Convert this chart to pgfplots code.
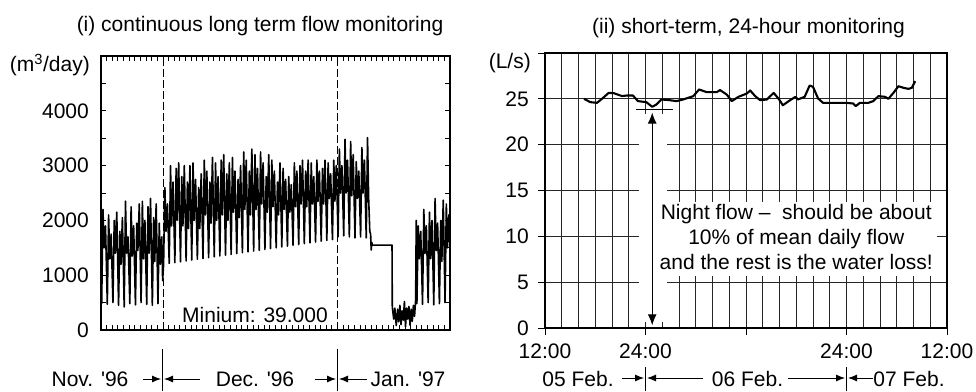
\documentclass[border=0pt]{standalone}
\usepackage{fontspec}
\setmainfont{Liberation Sans}
\usepackage{pgfplots}
\pgfplotsset{compat=1.18}
\usetikzlibrary{arrows.meta}
\newcommand{\F}{\fontsize{21pt}{25pt}\selectfont}
\begin{document}
\F
\begin{tikzpicture}[x=1pt,y=1pt,font=\F]
\useasboundingbox (0,0) rectangle (976,391);
% ---------------- left panel ----------------
\begin{axis}[at={(101pt,61pt)}, anchor=south west, scale only axis,
  width=349pt, height=274pt,
  xmin=0, xmax=62, ymin=0, ymax=5000,
  xtick={0,1,...,62}, xticklabels={},
  ytick={0,500,...,5000}, yticklabels={0,,1000,,2000,,3000,,4000,,},
  scaled ticks=false,
  tick align=inside, major tick length=5pt,
  axis line style={line width=1.1pt},
  tick style={black,line width=0.8pt},
  tick label style={font=\F},
  yticklabel style={xshift=-5pt},
  /pgf/number format/assume math mode=true]
\draw[dash pattern=on 8pt off 3pt, line width=0.7pt] (axis cs:11,0) -- (axis cs:11,5000);
\draw[dash pattern=on 8pt off 3pt, line width=0.7pt] (axis cs:42,0) -- (axis cs:42,5000);
\addplot[black, line width=1.6pt, line join=round] coordinates {
(0,1400)
(0.12,480) (0.35,2200) (0.55,1500) (0.8,1900)
(1.12,470) (1.35,2100) (1.55,1300) (1.8,1750)
(2.12,500) (2.35,2000) (2.55,1400) (2.8,2150)
(3.12,450) (3.35,1800) (3.55,1200) (3.8,2050)
(4.12,420) (4.35,2350) (4.55,1400) (4.8,1700)
(5.12,480) (5.35,2250) (5.55,1350) (5.8,1900)
(6.12,460) (6.35,1950) (6.55,1450) (6.8,2300)
(7.12,500) (7.35,2350) (7.55,1300) (7.8,2000)
(8.12,470) (8.35,2250) (8.55,1400) (8.8,2400)
(9.12,450) (9.35,2050) (9.55,1250) (9.8,2300)
(10.12,480) (10.35,1950) (10.55,1200) (10.8,1700)
(10.95,900)
(11.12,1200) (11.35,2600) (11.55,1800) (11.8,2300)
(12.12,1215) (12.35,3000) (12.55,1900) (12.8,2700)
(13.12,1230) (13.35,2950) (13.55,2000) (13.8,3050)
(14.12,1245) (14.35,2800) (14.55,1900) (14.8,3000)
(15.12,1260) (15.35,2700) (15.55,1850) (15.8,3000)
(16.12,1275) (16.35,3050) (16.55,2000) (16.8,2750)
(17.12,1290) (17.35,2600) (17.55,1850) (17.8,2850)
(18.12,1305) (18.35,3100) (18.55,2100) (18.8,2900)
(19.12,1320) (19.35,2700) (19.55,1950) (19.8,3150)
(20.12,1335) (20.35,3050) (20.55,2000) (20.8,2800)
(21.12,1350) (21.35,3100) (21.55,2100) (21.8,3200)
(22.12,1365) (22.35,2850) (22.55,2000) (22.8,3050)
(23.12,1380) (23.35,3150) (23.55,2150) (23.8,2900)
(24.12,1395) (24.35,2750) (24.55,2050) (24.8,3000)
(25.12,1410) (25.35,3250) (25.55,2200) (25.8,3100)
(26.12,1425) (26.35,2900) (26.55,2100) (26.8,3300)
(27.12,1440) (27.35,3200) (27.55,2200) (27.8,2950)
(28.12,1455) (28.35,3250) (28.55,2300) (28.8,3050)
(29.12,1470) (29.35,2800) (29.55,2150) (29.8,3200)
(30.12,1485) (30.35,3100) (30.55,2250) (30.8,2900)
(31.12,1500) (31.35,2700) (31.55,2100) (31.8,3050)
(32.12,1515) (32.35,2950) (32.55,2200) (32.8,2750)
(33.12,1530) (33.35,2800) (33.55,2150) (33.8,2650)
(34.12,1545) (34.35,3050) (34.55,2250) (34.8,2900)
(35.12,1560) (35.35,3000) (35.55,2300) (35.8,3100)
(36.12,1575) (36.35,2900) (36.55,2250) (36.8,3100)
(37.12,1590) (37.35,3050) (37.55,2300) (37.8,2800)
(38.12,1605) (38.35,3100) (38.55,2350) (38.8,2900)
(39.12,1620) (39.35,2950) (39.55,2300) (39.8,3100)
(40.12,1635) (40.35,3050) (40.55,2400) (40.8,2850)
(41.12,1650) (41.35,3100) (41.55,2350) (41.8,3000)
(42.12,1700) (42.35,3300) (42.55,2500) (42.8,3000)
(43.12,1720) (43.35,3480) (43.55,2500) (43.8,3100)
(44.12,1700) (44.35,3440) (44.55,2450) (44.8,3200)
(45.12,1680) (45.35,3070) (45.55,2400) (45.8,2900)
(46.12,1700) (46.35,3330) (46.55,2500) (46.8,3100)
(47.12,1680) (47.35,3510) (47.55,2400) (47.75,1800)
(47.9,1750) (48.0,1460) (48.1,1600) (48.2,1550) (51.7,1550)
(51.75,420) (52.0,200) (52.2,400) (52.45,80) (52.7,380) (52.9,150)
(53.1,450) (53.3,100) (53.5,350) (53.7,180) (53.9,520) (54.1,60)
(54.3,400) (54.5,200) (54.7,430) (54.9,90) (55.1,380) (55.3,160)
(55.5,450) (55.7,250) (55.9,560)
(56.0,2000) (56.12,480) (56.35,1900) (56.55,1300) (56.8,1800)
(57.12,470) (57.35,2200) (57.55,1400) (57.8,1900)
(58.12,500) (58.35,2150) (58.55,1300) (58.8,2000)
(59.12,460) (59.35,2400) (59.55,1450) (59.8,1950)
(60.12,480) (60.35,2000) (60.55,1250) (60.8,2370)
(61.12,500) (61.35,2300) (61.55,1500) (61.8,2100)
(62,1500)
};
\end{axis}
% ---------------- right panel ----------------
\begin{axis}[at={(545pt,63pt)}, anchor=south west, scale only axis,
  width=402pt, height=275pt,
  xmin=0, xmax=48, ymin=0, ymax=30,
  xtick={0,12,24,36,48}, xticklabels={12:00,24:00,,24:00,12:00},
  minor xtick={2,4,...,46},
  ytick={0,5,...,30}, yticklabels={0,5,10,15,20,25,},
  grid=both,
  major grid style={black!85,line width=0.8pt},
  minor grid style={black!85,line width=0.8pt},
  tick align=outside, xtick pos=left, ytick pos=left,
  major tick length=7pt, minor tick length=0pt,
  axis line style={line width=1.6pt},
  tick style={black,line width=0.9pt},
  tick label style={font=\F},
  yticklabel style={xshift=-2pt},
  xticklabel style={yshift=-2pt}]
\fill[white] (axis cs:11.2,0.65) rectangle (axis cs:14.6,23.4);
\fill[white] (axis cs:11.2,5.7) rectangle (axis cs:46.8,13.8);
\addplot[black, line width=2.1pt, line join=round] coordinates {
(4.66,25.0) (5.4,24.64) (6.2,24.56) (6.8,25.0) (7.6,25.65) (8.2,25.62)
(9.2,25.3) (9.75,25.36) (10.5,25.36) (11.1,24.75) (12.1,24.64) (12.8,24.13)
(13.3,24.38) (13.9,24.93) (14.9,24.85) (15.7,24.75) (16.5,24.93) (17.1,25.11)
(17.7,25.29) (18.4,26.02) (19.3,25.73) (20.5,25.73) (20.9,25.95) (21.7,25.47)
(22.3,24.75) (23.1,25.22) (24.1,25.58) (24.5,25.91) (25.1,25.29) (25.7,24.85)
(26.5,24.93) (27.3,25.65) (27.9,25.0) (28.4,24.3) (29.1,24.75) (29.9,25.22)
(30.2,24.93) (31.0,25.22) (31.6,26.45) (32.0,26.31) (32.6,25.05) (33.2,24.56)
(34.4,24.56) (36.0,24.56) (36.8,24.49) (37.1,24.2) (37.6,24.56) (38.6,24.56)
(39.2,24.75) (39.8,25.29) (40.6,25.22) (41.0,25.0) (41.6,25.65) (42.2,26.38)
(42.8,26.2) (43.4,26.09) (43.8,26.2) (44.2,26.93)
};
\draw[line width=0.9pt] (axis cs:10.9,23.8) -- (axis cs:15.3,23.8);
\draw[line width=1pt, {Latex[length=11pt,width=9pt]}-{Latex[length=11pt,width=9pt]}] (axis cs:12.8,23.5) -- (axis cs:12.8,0.3);
\node[align=center, inner sep=0pt, font=\F] at (axis cs:30,9.94)
  {Night flow \textendash\ \ should be about\\10\% of mean daily flow\\and the rest is the water loss!};
\end{axis}
% ---------------- texts ----------------
\node[anchor=base, inner sep=0pt] at (260,359.3) {(i) continuous long term flow monitoring};
\node[anchor=base, inner sep=0pt] at (748.5,357.7) {(ii) short-term, 24-hour monitoring};
\node[anchor=base east, inner sep=0pt] at (90,319.3) {(m\textsuperscript{3}/day)};
\node[anchor=base east, inner sep=0pt] at (531,322.7) {(L/s)};
\node[anchor=base, inner sep=0pt] at (255,69) {Minium: 39.000};
% left month row
\draw[line width=0.9pt] (162.5,0) -- (162.5,42);
\draw[line width=0.9pt] (337.5,0) -- (337.5,42);
\node[anchor=base, inner sep=0pt] at (90,4.3) {Nov. \textquotesingle96};
\node[anchor=base, inner sep=0pt] at (255,4.3) {Dec. \textquotesingle96};
\node[anchor=base, inner sep=0pt] at (408,4.3) {Jan. \textquotesingle97};
\draw[line width=0.9pt, -{Latex[length=9pt,width=7pt]}] (143,12) -- (161,12);
\draw[line width=0.9pt, -{Latex[length=9pt,width=7pt]}] (200,12) -- (164,12);
\draw[line width=0.9pt, -{Latex[length=9pt,width=7pt]}] (315,12) -- (336,12);
\draw[line width=0.9pt, -{Latex[length=9pt,width=7pt]}] (367,12) -- (339,12);
% right day row
\draw[line width=0.9pt] (645.5,0) -- (645.5,24);
\draw[line width=0.9pt] (846.5,0) -- (846.5,24);
\node[anchor=base, inner sep=0pt] at (578,4.3) {05 Feb.};
\node[anchor=base, inner sep=0pt] at (747.5,4.3) {06 Feb.};
\node[anchor=base, inner sep=0pt] at (909,4.3) {07 Feb.};
\draw[line width=0.9pt, -{Latex[length=9pt,width=7pt]}] (622,13) -- (644,13);
\draw[line width=0.9pt, -{Latex[length=9pt,width=7pt]}] (703,13) -- (647,13);
\draw[line width=0.9pt, -{Latex[length=9pt,width=7pt]}] (788,13) -- (845,13);
\draw[line width=0.9pt, -{Latex[length=9pt,width=7pt]}] (873,13) -- (848,13);
\end{tikzpicture}
\end{document}
